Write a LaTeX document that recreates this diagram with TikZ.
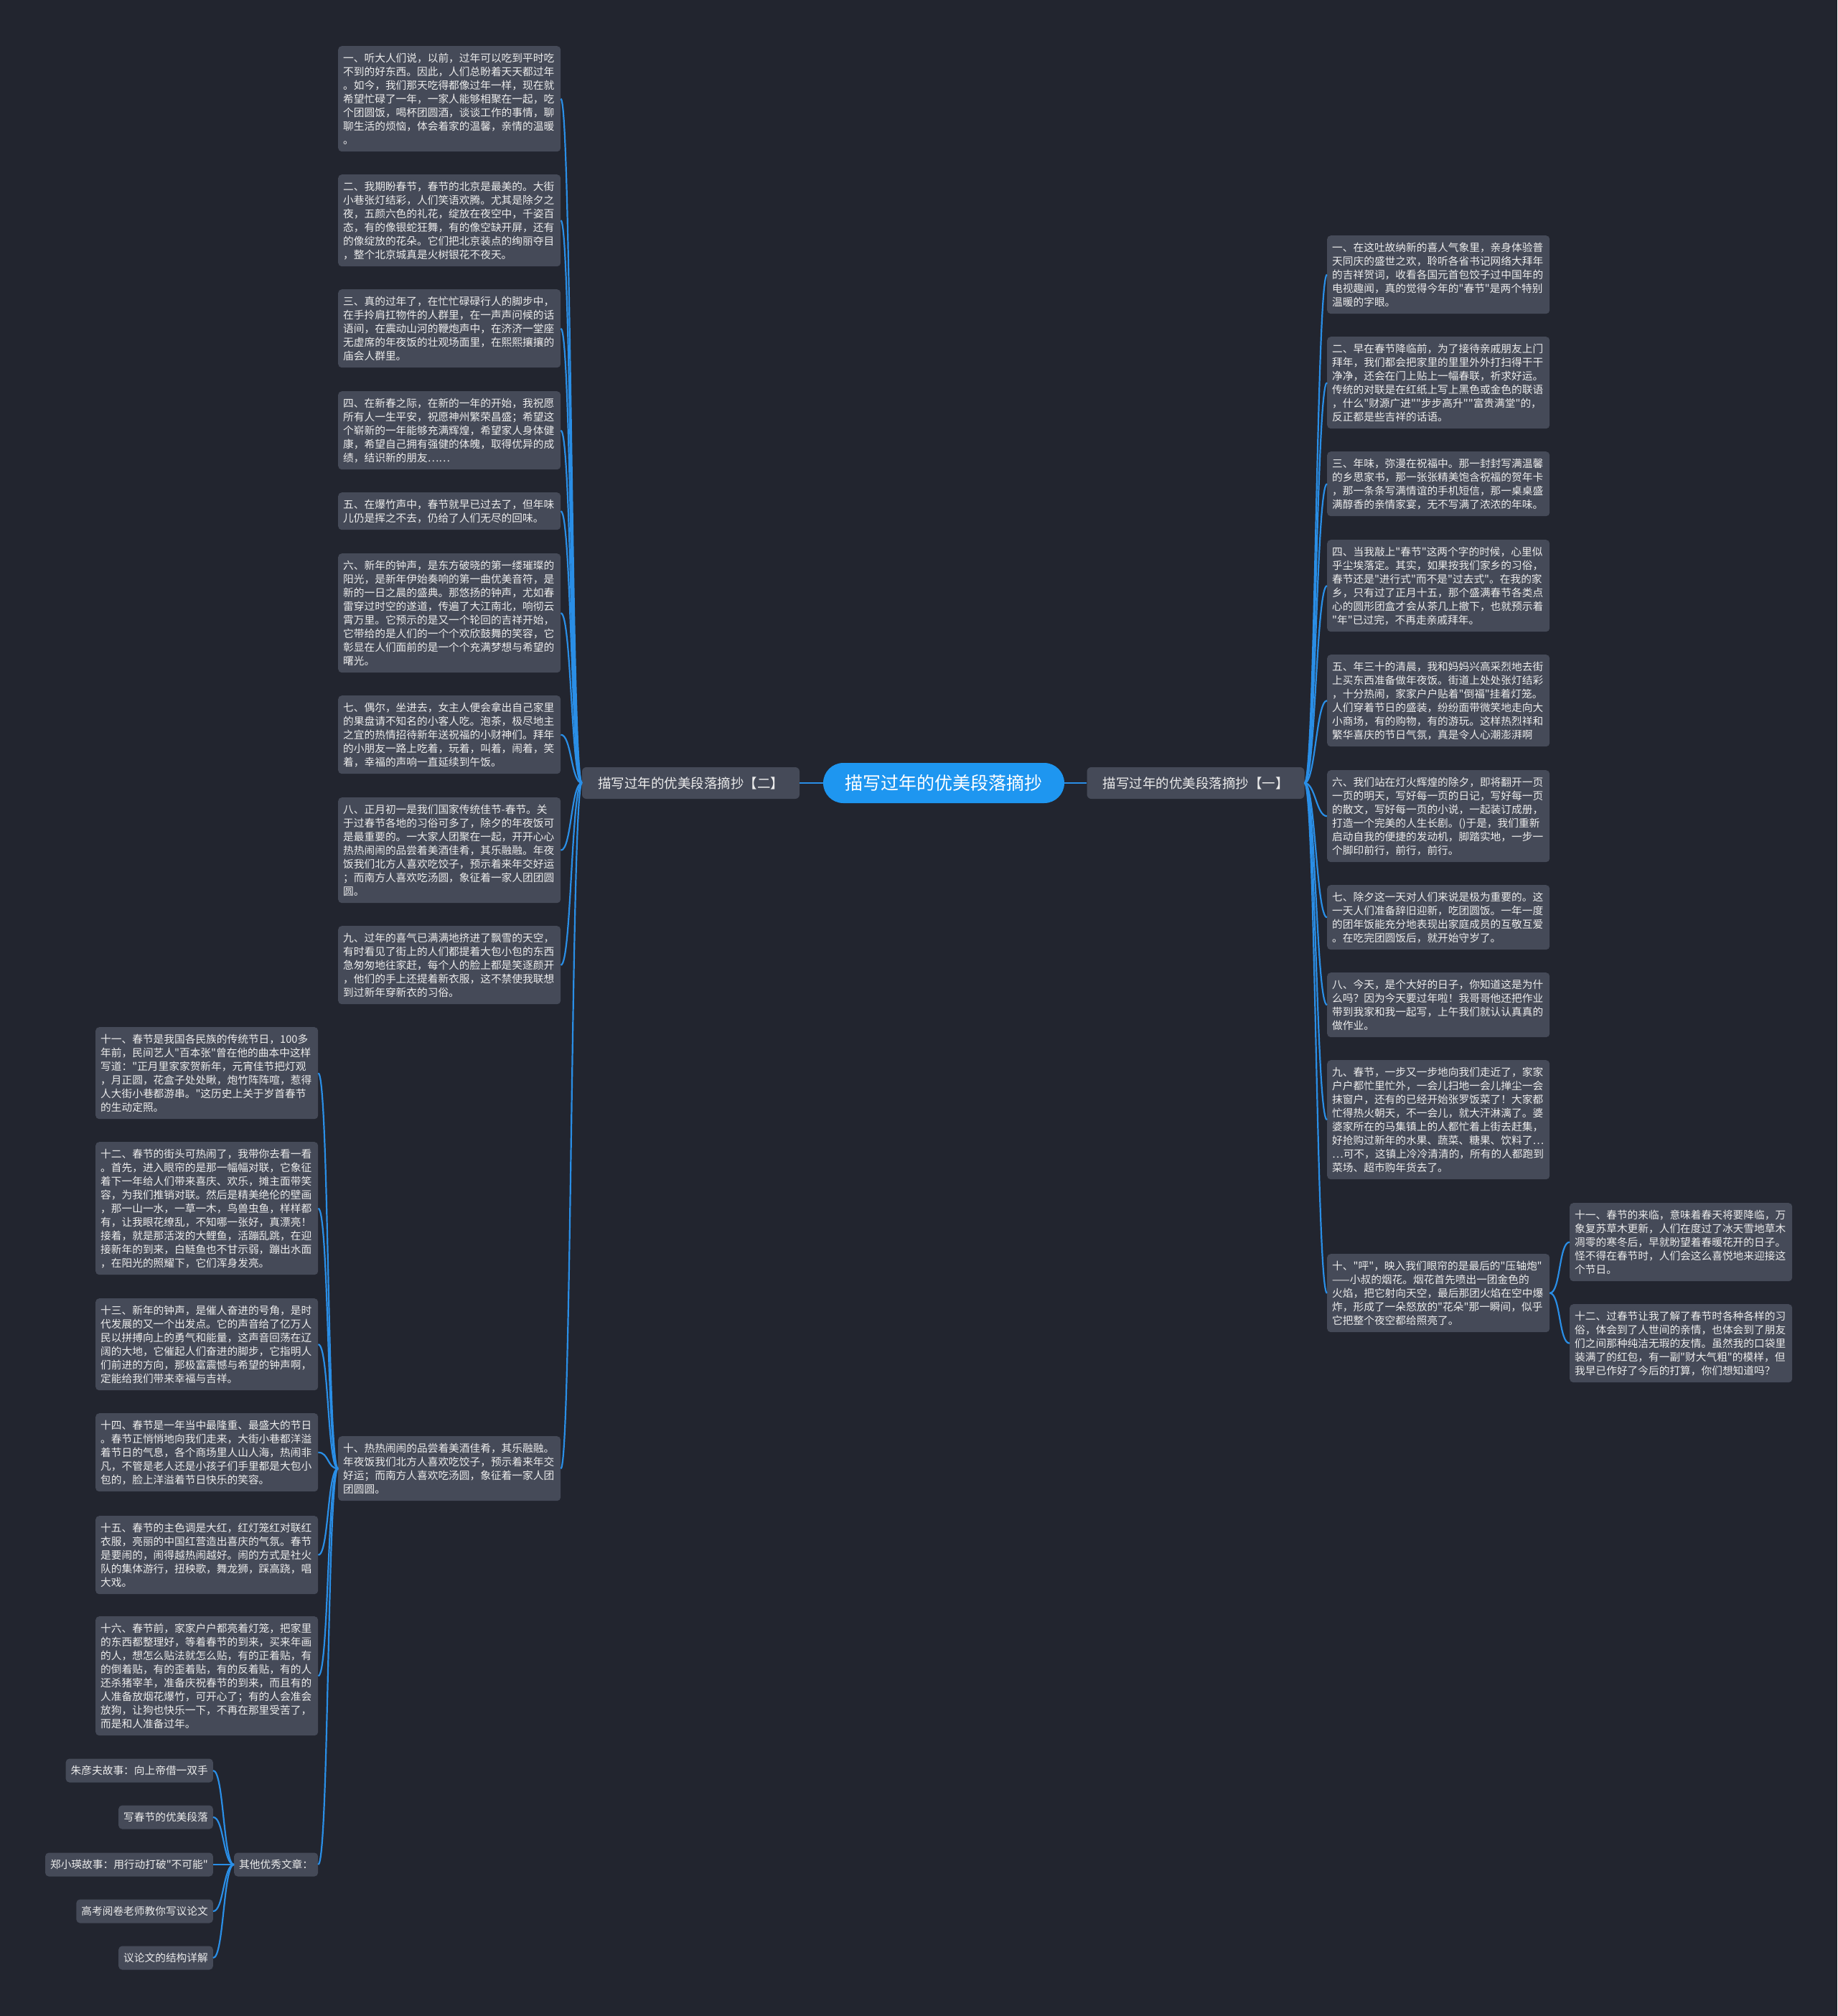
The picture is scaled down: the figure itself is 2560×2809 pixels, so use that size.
\documentclass[tikz,border=0pt]{standalone}
\usepackage{fontspec}
\newfontfamily\cjkf{Noto Sans CJK SC}
\definecolor{bgc}{HTML}{22252F}
\definecolor{boxc}{HTML}{454A58}
\definecolor{txtc}{HTML}{ECECEC}
\definecolor{linec}{HTML}{2A8EE6}
\definecolor{rootc}{HTML}{1E96F0}
\newcommand\parafont{\cjkf\fontsize{14.7}{19}\selectfont}
\newcommand\pbox[5]{\node[para,minimum height={19*#4+14}] (#1) at (#2,#3) {#5};}
\newcommand\lnk[2]{\draw[conn] (#1) .. controls +(15,0) and +(-15,0) .. (#2);}
\begin{document}
\begin{tikzpicture}[x=1pt,y=-1pt,
  para/.style={fill=boxc,rounded corners=5pt,text=txtc,font=\parafont,align=left,text width=296pt,inner xsep=7pt,inner ysep=0pt,anchor=north west},
  leaf/.style={fill=boxc,rounded corners=5pt,text=txtc,font=\parafont,inner xsep=7pt,inner ysep=0pt,minimum height=33pt},
  lvl/.style={fill=boxc,rounded corners=6pt,text=txtc,font=\cjkf\fontsize{18.5}{22}\selectfont,inner xsep=0pt,inner ysep=0pt,minimum height=44pt,minimum width=303pt},
  rootn/.style={fill=rootc,rounded corners=28pt,text=white,font=\cjkf\fontsize{25}{30}\selectfont,inner xsep=0pt,inner ysep=0pt,minimum height=56pt,minimum width=336pt},
  conn/.style={draw=linec,line width=2.2pt}]
\fill[bgc] (0,0) rectangle (2560,2809);
% central and level-1
\node[rootn] (root) at (1315,1091) {描写过年的优美段落摘抄};
\node[lvl] (two) at (962.5,1091) {描写过年的优美段落摘抄【二】};
\node[lvl] (one) at (1666,1091) {描写过年的优美段落摘抄【一】};
\draw[conn] (two.east) -- (root.west);
\draw[conn] (root.east) -- (one.west);
% left column (二)
\pbox{L1}{471}{64}{7}{一、听大人们说，以前，过年可以吃到平时吃\\不到的好东西。因此，人们总盼着天天都过年\\。如今，我们那天吃得都像过年一样，现在就\\希望忙碌了一年，一家人能够相聚在一起，吃\\个团圆饭，喝杯团圆酒，谈谈工作的事情，聊\\聊生活的烦恼，体会着家的温馨，亲情的温暖\\。}
\pbox{L2}{471}{243}{6}{二、我期盼春节，春节的北京是最美的。大街\\小巷张灯结彩，人们笑语欢腾。尤其是除夕之\\夜，五颜六色的礼花，绽放在夜空中，千姿百\\态，有的像银蛇狂舞，有的像空缺开屏，还有\\的像绽放的花朵。它们把北京装点的绚丽夺目\\，整个北京城真是火树银花不夜天。}
\pbox{L3}{471}{403}{5}{三、真的过年了，在忙忙碌碌行人的脚步中，\\在手拎肩扛物件的人群里，在一声声问候的话\\语间，在震动山河的鞭炮声中，在济济一堂座\\无虚席的年夜饭的壮观场面里，在熙熙攘攘的\\庙会人群里。}
\pbox{L4}{471}{545}{5}{四、在新春之际，在新的一年的开始，我祝愿\\所有人一生平安，祝愿神州繁荣昌盛；希望这\\个崭新的一年能够充满辉煌，希望家人身体健\\康，希望自己拥有强健的体魄，取得优异的成\\绩，结识新的朋友……}
\pbox{L5}{471}{686}{2}{五、在爆竹声中，春节就早已过去了，但年味\\儿仍是挥之不去，仍给了人们无尽的回味。}
\pbox{L6}{471}{771}{8}{六、新年的钟声，是东方破晓的第一缕璀璨的\\阳光，是新年伊始奏响的第一曲优美音符，是\\新的一日之晨的盛典。那悠扬的钟声，尤如春\\雷穿过时空的遂道，传遍了大江南北，响彻云\\霄万里。它预示的是又一个轮回的吉祥开始，\\它带给的是人们的一个个欢欣鼓舞的笑容，它\\彰显在人们面前的是一个个充满梦想与希望的\\曙光。}
\pbox{L7}{471}{969}{5}{七、偶尔，坐进去，女主人便会拿出自己家里\\的果盘请不知名的小客人吃。泡茶，极尽地主\\之宜的热情招待新年送祝福的小财神们。拜年\\的小朋友一路上吃着，玩着，叫着，闹着，笑\\着，幸福的声响一直延续到午饭。}
\pbox{L8}{471}{1111}{7}{八、正月初一是我们国家传统佳节-春节。关\\于过春节各地的习俗可多了，除夕的年夜饭可\\是最重要的。一大家人团聚在一起，开开心心\\热热闹闹的品尝着美酒佳肴，其乐融融。年夜\\饭我们北方人喜欢吃饺子，预示着来年交好运\\；而南方人喜欢吃汤圆，象征着一家人团团圆\\圆。}
\pbox{L9}{471}{1290}{5}{九、过年的喜气已满满地挤进了飘雪的天空，\\有时看见了街上的人们都提着大包小包的东西\\急匆匆地往家赶，每个人的脸上都是笑逐颜开\\，他们的手上还提着新衣服，这不禁使我联想\\到过新年穿新衣的习俗。}
\pbox{L10}{471}{2001}{4}{十、热热闹闹的品尝着美酒佳肴，其乐融融。\\年夜饭我们北方人喜欢吃饺子，预示着来年交\\好运；而南方人喜欢吃汤圆，象征着一家人团\\团圆圆。}
\foreach \n in {L1,L2,L3,L4,L5,L6,L7,L8,L9,L10} {\lnk{\n.east}{two.west}}
% far-left column
\pbox{F11}{133}{1431}{6}{十一、春节是我国各民族的传统节日，100多\\年前，民间艺人"百本张"曾在他的曲本中这样\\写道："正月里家家贺新年，元宵佳节把灯观\\，月正圆，花盒子处处瞅，炮竹阵阵喧，惹得\\人大街小巷都游串。"这历史上关于岁首春节\\的生动定照。}
\pbox{F12}{133}{1591}{9}{十二、春节的街头可热闹了，我带你去看一看\\。首先，进入眼帘的是那一幅幅对联，它象征\\着下一年给人们带来喜庆、欢乐，摊主面带笑\\容，为我们推销对联。然后是精美绝伦的壁画\\，那一山一水，一草一木，鸟兽虫鱼，样样都\\有，让我眼花缭乱，不知哪一张好，真漂亮！\\接着，就是那活泼的大鲤鱼，活蹦乱跳，在迎\\接新年的到来，白鲢鱼也不甘示弱，蹦出水面\\，在阳光的照耀下，它们浑身发亮。}
\pbox{F13}{133}{1809}{6}{十三、新年的钟声，是催人奋进的号角，是时\\代发展的又一个出发点。它的声音给了亿万人\\民以拼搏向上的勇气和能量，这声音回荡在辽\\阔的大地，它催起人们奋进的脚步，它指明人\\们前进的方向，那极富震憾与希望的钟声啊，\\定能给我们带来幸福与吉祥。}
\pbox{F14}{133}{1969}{5}{十四、春节是一年当中最隆重、最盛大的节日\\。春节正悄悄地向我们走来，大街小巷都洋溢\\着节日的气息，各个商场里人山人海，热闹非\\凡，不管是老人还是小孩子们手里都是大包小\\包的，脸上洋溢着节日快乐的笑容。}
\pbox{F15}{133}{2112}{5}{十五、春节的主色调是大红，红灯笼红对联红\\衣服，亮丽的中国红营造出喜庆的气氛。春节\\是要闹的，闹得越热闹越好。闹的方式是社火\\队的集体游行，扭秧歌，舞龙狮，踩高跷，唱\\大戏。}
\pbox{F16}{133}{2252}{8}{十六、春节前，家家户户都亮着灯笼，把家里\\的东西都整理好，等着春节的到来，买来年画\\的人，想怎么贴法就怎么贴，有的正着贴，有\\的倒着贴，有的歪着贴，有的反着贴，有的人\\还杀猪宰羊，准备庆祝春节的到来，而且有的\\人准备放烟花爆竹，可开心了；有的人会准会\\放狗，让狗也快乐一下，不再在那里受苦了，\\而是和人准备过年。}
\node[leaf,anchor=west] (other) at (326,2598) {其他优秀文章：};
\foreach \n in {F11,F12,F13,F14,F15,F16,other} {\lnk{\n.east}{L10.west}}
% other articles
\node[leaf,anchor=east] (a1) at (297,2467) {朱彦夫故事：向上帝借一双手};
\node[leaf,anchor=east] (a2) at (297,2532) {写春节的优美段落};
\node[leaf,anchor=east] (a3) at (297,2598) {郑小瑛故事：用行动打破"不可能"};
\node[leaf,anchor=east] (a4) at (297,2663) {高考阅卷老师教你写议论文};
\node[leaf,anchor=east] (a5) at (297,2728) {议论文的结构详解};
\foreach \n in {a1,a2,a3,a4,a5} {\lnk{\n.east}{other.west}}
% right column (一)
\pbox{R1}{1849}{328}{5}{一、在这吐故纳新的喜人气象里，亲身体验普\\天同庆的盛世之欢，聆听各省书记网络大拜年\\的吉祥贺词，收看各国元首包饺子过中国年的\\电视趣闻，真的觉得今年的"春节"是两个特别\\温暖的字眼。}
\pbox{R2}{1849}{469}{6}{二、早在春节降临前，为了接待亲戚朋友上门\\拜年，我们都会把家里的里里外外打扫得干干\\净净，还会在门上贴上一幅春联，祈求好运。\\传统的对联是在红纸上写上黑色或金色的联语\\，什么"财源广进""步步高升""富贵满堂"的，\\反正都是些吉祥的话语。}
\pbox{R3}{1849}{629}{4}{三、年味，弥漫在祝福中。那一封封写满温馨\\的乡思家书，那一张张精美饱含祝福的贺年卡\\，那一条条写满情谊的手机短信，那一桌桌盛\\满醇香的亲情家宴，无不写满了浓浓的年味。}
\pbox{R4}{1849}{752}{6}{四、当我敲上"春节"这两个字的时候，心里似\\乎尘埃落定。其实，如果按我们家乡的习俗，\\春节还是"进行式"而不是"过去式"。在我的家\\乡，只有过了正月十五，那个盛满春节各类点\\心的圆形团盒才会从茶几上撤下，也就预示着\\"年"已过完，不再走亲戚拜年。}
\pbox{R5}{1849}{912}{6}{五、年三十的清晨，我和妈妈兴高采烈地去街\\上买东西准备做年夜饭。街道上处处张灯结彩\\，十分热闹，家家户户贴着"倒福"挂着灯笼。\\人们穿着节日的盛装，纷纷面带微笑地走向大\\小商场，有的购物，有的游玩。这样热烈祥和\\繁华喜庆的节日气氛，真是令人心潮澎湃啊}
\pbox{R6}{1849}{1073}{6}{六、我们站在灯火辉煌的除夕，即将翻开一页\\一页的明天，写好每一页的日记，写好每一页\\的散文，写好每一页的小说，一起装订成册，\\打造一个完美的人生长剧。()于是，我们重新\\启动自我的便捷的发动机，脚踏实地，一步一\\个脚印前行，前行，前行。}
\pbox{R7}{1849}{1233}{4}{七、除夕这一天对人们来说是极为重要的。这\\一天人们准备辞旧迎新，吃团圆饭。一年一度\\的团年饭能充分地表现出家庭成员的互敬互爱\\。在吃完团圆饭后，就开始守岁了。}
\pbox{R8}{1849}{1355}{4}{八、今天，是个大好的日子，你知道这是为什\\么吗？因为今天要过年啦！我哥哥他还把作业\\带到我家和我一起写，上午我们就认认真真的\\做作业。}
\pbox{R9}{1849}{1477}{8}{九、春节，一步又一步地向我们走近了，家家\\户户都忙里忙外，一会儿扫地一会儿掸尘一会\\抹窗户，还有的已经开始张罗饭菜了！大家都\\忙得热火朝天，不一会儿，就大汗淋漓了。婆\\婆家所在的马集镇上的人都忙着上街去赶集，\\好抢购过新年的水果、蔬菜、糖果、饮料了…\\…可不，这镇上冷冷清清的，所有的人都跑到\\菜场、超市购年货去了。}
\pbox{R10}{1849}{1747}{5}{十、"呯"，映入我们眼帘的是最后的"压轴炮"\\——小叔的烟花。烟花首先喷出一团金色的\\火焰，把它射向天空，最后那团火焰在空中爆\\炸，形成了一朵怒放的"花朵"那一瞬间，似乎\\它把整个夜空都给照亮了。}
\foreach \n in {R1,R2,R3,R4,R5,R6,R7,R8,R9,R10} {\lnk{one.east}{\n.west}}
% far-right
\pbox{G11}{2187}{1676}{5}{十一、春节的来临，意味着春天将要降临，万\\象复苏草木更新，人们在度过了冰天雪地草木\\凋零的寒冬后，早就盼望着春暖花开的日子。\\怪不得在春节时，人们会这么喜悦地来迎接这\\个节日。}
\pbox{G12}{2187}{1817}{5}{十二、过春节让我了解了春节时各种各样的习\\俗，体会到了人世间的亲情，也体会到了朋友\\们之间那种纯洁无瑕的友情。虽然我的口袋里\\装满了的红包，有一副"财大气粗"的模样，但\\我早已作好了今后的打算，你们想知道吗？}
\foreach \n in {G11,G12} {\lnk{R10.east}{\n.west}}
\end{tikzpicture}
\end{document}
